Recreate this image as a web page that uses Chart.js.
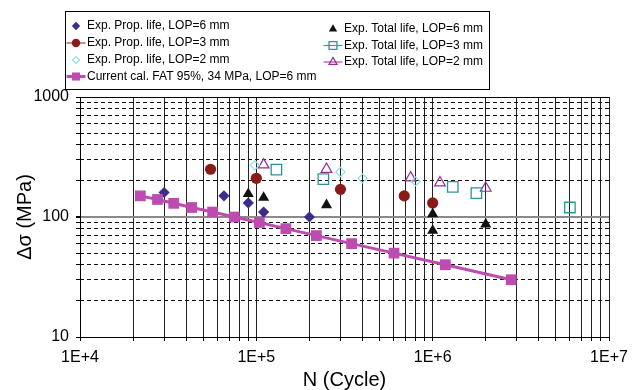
<!DOCTYPE html>
<html>
<head>
<meta charset="utf-8">
<script src="https://cdn.jsdelivr.net/npm/chart.js@4.4.1/dist/chart.umd.min.js"></script>
<style>
  html, body { margin: 0; padding: 0; background: #fff; }
</style>
</head>
<body>
<canvas id="c" width="644" height="390"></canvas>
<script>
// S-N data: N (cycles) vs stress range (MPa)
const fatN    = [22000, 27500, 34000, 43000, 56500, 75000, 104000, 147000, 219000, 347000, 604000, 1180000, 2790000];
const fatS    = [150, 140, 130, 120, 110, 100, 90, 80, 70, 60, 50, 40, 30];

const prop6N  = [30000, 65500, 90000, 110000, 200000];
const prop6S  = [160, 150, 131, 110, 100];
const prop3N  = [55000, 100000, 300000, 690000, 1000000];
const prop3S  = [250, 210, 170, 150, 131];
const prop2N  = [98000, 300000, 400000, 800000];
const prop2S  = [270, 237, 210, 198];

const total6N = [90000, 110000, 250000, 1000000, 1000000, 2000000];
const total6S = [156, 145, 126, 106, 77, 87];
const total3N = [130000, 240000, 1300000, 1770000, 6000000];
const total3S = [248, 207, 178, 158, 120];
const total2N = [110000, 250000, 750000, 1100000, 2000000];
const total2S = [272, 250, 212, 193, 174];

const xMajor = [1e4, 1e5, 1e6, 1e7];
const xTickLabels = ['1E+4', '1E+5', '1E+6', '1E+7'];
const yMajor = [10, 100, 1000];
const yTickLabels = ['10', '100', '1000'];

const FONT = '"Liberation Sans", Arial, sans-serif';

function pts(xs, ys) { return xs.map((x, i) => ({ x, y: ys[i] })); }

// every decade gets 1..9 gridlines
function logGrid(lo, hi) {
  const out = [];
  for (let d = lo; d < hi; d *= 10) {
    for (let m = 1; m < 10; m++) out.push(m * d);
  }
  out.push(hi);
  return out;
}
const xGrid = logGrid(1e4, 1e7);
const yGrid = logGrid(10, 1000);

// boxed two-column legend above the plot
const boxLegend = {
  id: 'boxLegend',
  afterDraw(chart, args, opts) {
    const ctx = chart.ctx;
    ctx.save();
    ctx.fillStyle = '#fff';
    ctx.fillRect(65.5, 11.5, 424, 78);
    ctx.strokeStyle = '#000';
    ctx.lineWidth = 1;
    ctx.strokeRect(65.5, 11.5, 424, 78);
    ctx.font = '12px ' + FONT;
    ctx.textBaseline = 'middle';
    opts.items.forEach(it => {
      const ds = chart.data.datasets[it.ds];
      const col = ds.pointBorderColor;
      if (it.line) {
        ctx.strokeStyle = col;
        ctx.lineWidth = it.lw || 1;
        ctx.beginPath();
        ctx.moveTo(it.x - 9.5, it.y);
        ctx.lineTo(it.x + 9.5, it.y);
        ctx.stroke();
      }
      ctx.fillStyle = ds.pointBackgroundColor;
      ctx.strokeStyle = col;
      ctx.lineWidth = ds.pointBorderWidth;
      Chart.helpers.drawPoint(ctx, {
        pointStyle: ds.pointStyle, rotation: 0,
        radius: ds.pointRadius * 0.75, borderWidth: ds.pointBorderWidth
      }, it.x, it.y);
      ctx.fillStyle = '#000';
      ctx.fillText(ds.label, it.x + 11, it.y);
    });
    ctx.restore();
  }
};

const NONE = 'rgba(0,0,0,0)';

const datasets = [
  {
    label: 'Current cal. FAT 95%, 34 MPa, LOP=6 mm', data: pts(fatN, fatS),
    showLine: true, borderColor: '#BE4BB0', borderWidth: 3, tension: 0,
    pointStyle: 'rect', pointRadius: 7.6, pointBackgroundColor: '#BE4BB0',
    pointBorderColor: '#BE4BB0', pointBorderWidth: 0, order: 0
  },
  {
    label: 'Exp. Prop. life, LOP=6 mm', data: pts(prop6N, prop6S),
    pointStyle: 'rectRot', pointRadius: 5.6, pointBackgroundColor: '#3C2C8E',
    pointBorderColor: '#3C2C8E', pointBorderWidth: 0, order: 2
  },
  {
    label: 'Exp. Prop. life, LOP=3 mm', data: pts(prop3N, prop3S),
    pointStyle: 'circle', pointRadius: 5.6, pointBackgroundColor: '#8A1B17',
    pointBorderColor: '#8A1B17', pointBorderWidth: 0, order: 3
  },
  {
    label: 'Exp. Prop. life, LOP=2 mm', data: pts(prop2N, prop2S),
    pointStyle: 'rectRot', pointRadius: 4.6, pointBackgroundColor: NONE,
    pointBorderColor: '#8FE3E3', pointBorderWidth: 1.2, order: 4
  },
  {
    label: 'Exp. Total life, LOP=6 mm', data: pts(total6N, total6S),
    pointStyle: 'triangle', pointRadius: 6.4, pointBackgroundColor: '#111',
    pointBorderColor: '#111', pointBorderWidth: 0, order: 1
  },
  {
    label: 'Exp. Total life, LOP=3 mm', data: pts(total3N, total3S),
    pointStyle: 'rect', pointRadius: 7.4, pointBackgroundColor: NONE,
    pointBorderColor: '#2B9696', pointBorderWidth: 1.3, order: 5
  },
  {
    label: 'Exp. Total life, LOP=2 mm', data: pts(total2N, total2S),
    pointStyle: 'triangle', pointRadius: 6.2, pointBackgroundColor: NONE,
    pointBorderColor: '#9A2A9A', pointBorderWidth: 1.2, order: 6
  }
];

new Chart(document.getElementById('c'), {
  type: 'scatter',
  data: { datasets },
  options: {
    responsive: false,
    animation: false,
    devicePixelRatio: 1,
    layout: { padding: { left: 0, right: 35, top: 97, bottom: 0 } },
    plugins: {
      legend: { display: false },
      tooltip: { enabled: false },
      boxLegend: {
        items: [
          { ds: 1, x: 76, y: 26 },
          { ds: 2, x: 76, y: 43, line: true },
          { ds: 3, x: 76, y: 60 },
          { ds: 0, x: 76, y: 76.5, line: true, lw: 3 },
          { ds: 4, x: 333, y: 29 },
          { ds: 5, x: 333, y: 45.5, line: true },
          { ds: 6, x: 333, y: 62, line: true }
        ]
      }
    },
    scales: {
      x: {
        type: 'logarithmic', min: 1e4, max: 1e7,
        afterBuildTicks: s => { s.ticks = xGrid.map(v => ({ value: v })); },
        afterFit: s => { s.height = 53; },
        ticks: {
          autoSkip: false, maxRotation: 0, color: '#000', padding: 7,
          font: { family: FONT, size: 16 },
          callback: v => { const i = xMajor.indexOf(v); return i >= 0 ? xTickLabels[i] : ''; }
        },
        grid: { color: '#222', lineWidth: 1, tickLength: 4, tickColor: '#000' },
        border: { color: '#000', width: 1 },
        title: {
          display: true, text: 'N (Cycle)', color: '#000', padding: 0,
          font: { family: FONT, size: 20, lineHeight: 1 }
        }
      },
      y: {
        type: 'logarithmic', min: 10, max: 1000, position: 'left',
        afterBuildTicks: s => { s.ticks = yGrid.map(v => ({ value: v })); },
        afterFit: s => { s.width = 80; },
        ticks: {
          autoSkip: false, color: '#000', padding: 7,
          font: { family: FONT, size: 16 },
          callback: v => { const i = yMajor.indexOf(v); return i >= 0 ? yTickLabels[i] : ''; }
        },
        grid: {
          color: c => c.tick && c.tick.value === 100 ? '#8a8a8a' : (c.tick && c.tick.value === 1000 ? '#000' : NONE),
          lineWidth: c => c.tick && c.tick.value === 100 ? 2 : 1,
          tickLength: 4, tickColor: '#000'
        },
        border: { color: '#000', width: 1 },
        title: {
          display: true, text: 'Δσ (MPa)', color: '#000', padding: { top: 15, bottom: 0 },
          font: { family: FONT, size: 20, lineHeight: 1 }
        }
      },
      yDash: {
        type: 'logarithmic', min: 10, max: 1000, position: 'left',
        afterBuildTicks: s => { s.ticks = yGrid.map(v => ({ value: v })); },
        afterFit: s => { s.width = 0; },
        ticks: { display: false },
        grid: {
          color: c => c.tick && yMajor.includes(c.tick.value) ? NONE : '#111',
          lineWidth: 1, drawTicks: false
        },
        border: { display: false, dash: [4, 3] }
      }
    }
  },
  plugins: [boxLegend]
});
</script>
</body>
</html>
